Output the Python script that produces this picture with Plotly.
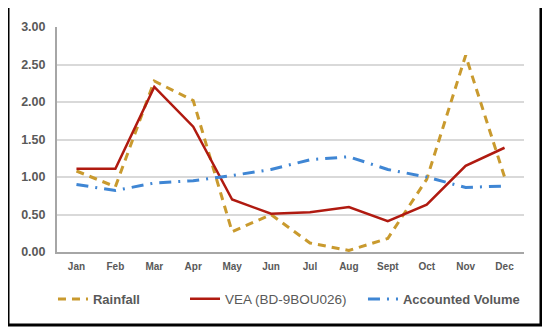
import plotly.graph_objects as go

months = ["Jan", "Feb", "Mar", "Apr", "May", "Jun", "Jul", "Aug", "Sept", "Oct", "Nov", "Dec"]
rainfall = [1.08, 0.87, 2.28, 2.02, 0.27, 0.50, 0.12, 0.02, 0.18, 0.97, 2.62, 1.00]
vea = [1.11, 1.11, 2.20, 1.67, 0.70, 0.51, 0.53, 0.60, 0.41, 0.63, 1.15, 1.39]
accounted = [0.90, 0.82, 0.92, 0.95, 1.02, 1.10, 1.23, 1.27, 1.10, 1.00, 0.86, 0.88]
y_ticks = [0, 0.5, 1.0, 1.5, 2.0, 2.5, 3.0]

fig = go.Figure()
fig.add_trace(go.Scatter(x=months, y=rainfall, mode="lines", name="Rainfall", legend="legend",
                         line=dict(color="#C99A2E", width=3, dash="8px,6px")))
fig.add_trace(go.Scatter(x=months, y=vea, mode="lines", name="VEA (BD-9BOU026)", legend="legend2",
                         line=dict(color="#B01A10", width=2.5)))
fig.add_trace(go.Scatter(x=months, y=accounted, mode="lines", name="Accounted Volume", legend="legend3",
                         line=dict(color="#3F86D4", width=3, dash="12px,7px,2px,7px")))

leg_common = dict(orientation="h", xanchor="left", y=-0.209, yanchor="middle",
                  bgcolor="rgba(0,0,0,0)", borderwidth=0)

fig.update_layout(
    width=542, height=324,
    margin=dict(l=49, r=26, t=19, b=80),
    paper_bgcolor="white", plot_bgcolor="white",
    font=dict(family="Liberation Sans, Arial, sans-serif", color="#595959"),
    showlegend=True,
    legend=dict(x=-0.0086, font=dict(size=13, color="#595959", weight="bold"), **leg_common),
    legend2=dict(x=0.2741, font=dict(size=13.5, color="#595959"), **leg_common),
    legend3=dict(x=0.6552, font=dict(size=13, color="#595959", weight="bold"), **leg_common),
    xaxis=dict(type="category", range=[-0.5, 11.5], showgrid=False, showline=True,
               linecolor="#A6A6A6", linewidth=2, ticks="", tickfont=dict(size=10, color="#595959", weight="bold"),
               zeroline=False, ticklabelstandoff=4),
    yaxis=dict(range=[0, 3.0], tickvals=y_ticks, tickformat=".2f", showgrid=True,
               gridcolor="#D9D9D9", gridwidth=1.5, showline=True, linecolor="#A6A6A6",
               linewidth=2, ticks="", tickfont=dict(size=12.5, color="#595959", weight="bold"), zeroline=False,
               ticklabelstandoff=7),
    shapes=[dict(type="rect", xref="paper", yref="paper",
                 x0=-0.1049, x1=1.0364, y0=-0.3244, y1=1.0978,
                 line=dict(color="black", width=3), fillcolor="rgba(0,0,0,0)")],
)
fig.write_html("out.html")
